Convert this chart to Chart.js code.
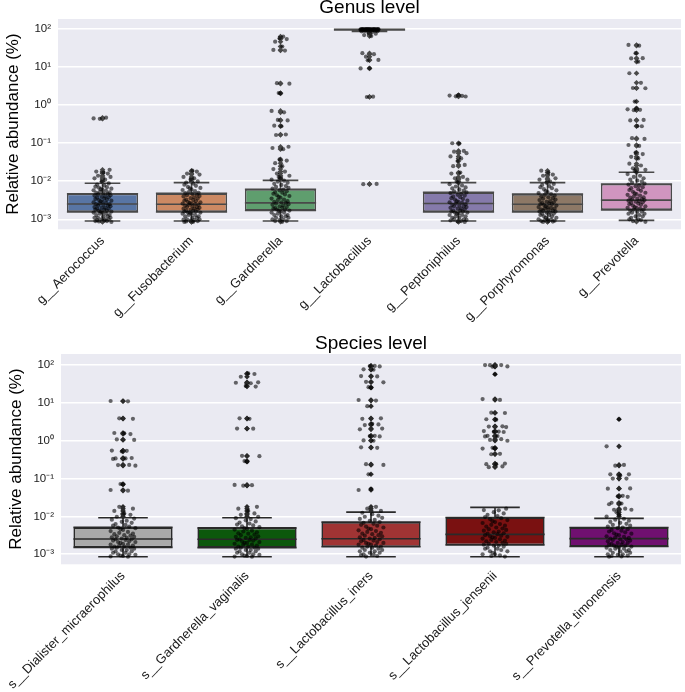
<!DOCTYPE html>
<html>
<head>
<meta charset="utf-8">
<script src="https://cdn.jsdelivr.net/npm/chart.js@4.4.1/dist/chart.umd.min.js"></script>
<style>
  body { margin: 0; background: #fff; }
  #genusChart { position: absolute; left: 0; top: 0; }
  #speciesChart { position: absolute; left: 0; top: 330px; }
</style>
</head>
<body>
<canvas id="genusChart" width="685" height="330"></canvas>
<canvas id="speciesChart" width="685" height="362"></canvas>
<script>
// ---- data ----
var yTicks = [0.001, 0.01, 0.1, 1, 10, 100];
var yTickLabels = ['10\u207B\u00B3', '10\u207B\u00B2', '10\u207B\u00B9', '10\u2070', '10\u00B9', '10\u00B2'];

var genusLabels = ['g__Aerococcus', 'g__Fusobacterium', 'g__Gardnerella', 'g__Lactobacillus', 'g__Peptoniphilus', 'g__Porphyromonas', 'g__Prevotella'];
var genusQ1 = [0.00156, 0.00156, 0.0017, 95, 0.00156, 0.00156, 0.00176];
var genusMedian = [0.00253, 0.0025, 0.0027, 98.5, 0.0026, 0.0025, 0.0032];
var genusQ3 = [0.0047, 0.0048, 0.0062, 99.7, 0.0051, 0.0046, 0.0085];
var genusWhiskLo = [0.0009, 0.0009, 0.0009, 88, 0.0009, 0.0009, 0.00094];
var genusWhiskHi = [0.0089, 0.0092, 0.0106, 100, 0.0092, 0.0092, 0.0173];

var aerococcus = [0.45, 0.47, 0.44, 0.02, 0.018, 0.017, 0.016, 0.014, 0.013, 0.012, 0.011, 0.0098, 0.0088, 0.0082, 0.0078, 0.0072, 0.007, 0.0068, 0.0064, 0.0062, 0.006, 0.0058, 0.0056, 0.0053, 0.0051, 0.005, 0.0048, 0.0047, 0.0045, 0.0043, 0.0042, 0.004, 0.0039, 0.0038, 0.0037, 0.0035, 0.0034, 0.0033, 0.0032, 0.0031, 0.003, 0.0029, 0.0028, 0.0027, 0.0026, 0.0025, 0.0025, 0.0024, 0.0023, 0.0023, 0.0022, 0.0021, 0.002, 0.002, 0.0019, 0.0019, 0.0018, 0.0018, 0.0017, 0.0017, 0.0016, 0.0016, 0.0015, 0.0015, 0.0014, 0.0014, 0.0013, 0.0013, 0.0012, 0.0012, 0.0011, 0.0011, 0.0011, 0.001, 0.001, 0.001, 0.00095, 0.00093, 0.0009, 0.0009, 0.00088, 0.00085];
var fusobacterium = [0.019, 0.018, 0.016, 0.015, 0.013, 0.012, 0.011, 0.0099, 0.0092, 0.0087, 0.0081, 0.0076, 0.0071, 0.0067, 0.0065, 0.0061, 0.0059, 0.0055, 0.0052, 0.005, 0.0049, 0.0046, 0.0044, 0.0043, 0.0041, 0.004, 0.0038, 0.0036, 0.0035, 0.0033, 0.0032, 0.0031, 0.003, 0.0029, 0.0028, 0.0027, 0.0026, 0.0026, 0.0025, 0.0024, 0.0024, 0.0023, 0.0022, 0.0021, 0.0021, 0.002, 0.0019, 0.0019, 0.0018, 0.0018, 0.0017, 0.0017, 0.0016, 0.0016, 0.0015, 0.0015, 0.0015, 0.0014, 0.0014, 0.0013, 0.0013, 0.0012, 0.0012, 0.0011, 0.0011, 0.001, 0.001, 0.00098, 0.00095, 0.00092, 0.0009, 0.00088, 0.00086, 0.00085];
var gardnerella = [64, 58, 55, 47, 35, 28.5, 27.5, 3.8, 3.7, 2.1, 2.05, 0.71, 0.65, 0.41, 0.4, 0.29, 0.28, 0.17, 0.165, 0.081, 0.075, 0.07, 0.038, 0.035, 0.03, 0.025, 0.021, 0.018, 0.016, 0.014, 0.013, 0.012, 0.011, 0.0104, 0.0098, 0.0092, 0.0086, 0.008, 0.0075, 0.0071, 0.0067, 0.0064, 0.006, 0.0058, 0.0055, 0.0052, 0.005, 0.0047, 0.0045, 0.0043, 0.0041, 0.0039, 0.0037, 0.0035, 0.0033, 0.0032, 0.003, 0.0029, 0.0028, 0.0027, 0.0026, 0.0025, 0.0024, 0.0023, 0.0022, 0.0021, 0.002, 0.002, 0.0019, 0.0018, 0.0018, 0.0017, 0.0017, 0.0016, 0.0015, 0.0015, 0.0014, 0.0013, 0.0013, 0.0012, 0.0012, 0.0011, 0.0011, 0.001, 0.001, 0.00095, 0.0009, 0.0009, 0.00086];
var lactobacillus = [100, 100, 100, 100, 100, 100, 99.9, 99.9, 99.8, 99.8, 99.7, 99.7, 99.6, 99.5, 99.5, 99.4, 99.2, 99, 99, 98.8, 98.5, 98.2, 98, 97.8, 97.5, 97, 96.5, 96, 95.5, 95, 94, 93, 92, 91, 90, 89, 88, 84, 80, 76, 70, 66, 23.4, 22, 19, 15.6, 15.2, 9.4, 9.3, 1.68, 1.65, 0.0085, 0.0084];
var peptoniphilus = [1.85, 1.8, 1.76, 1.72, 1.7, 0.1, 0.098, 0.063, 0.06, 0.055, 0.045, 0.04, 0.034, 0.027, 0.025, 0.017, 0.016, 0.013, 0.012, 0.011, 0.0098, 0.009, 0.0084, 0.0078, 0.0073, 0.0069, 0.0065, 0.0061, 0.0057, 0.0054, 0.0051, 0.0049, 0.0046, 0.0044, 0.0042, 0.004, 0.0038, 0.0036, 0.0034, 0.0033, 0.0031, 0.003, 0.0029, 0.0028, 0.0027, 0.0026, 0.0025, 0.0024, 0.0023, 0.0022, 0.0022, 0.0021, 0.002, 0.0019, 0.0019, 0.0018, 0.0017, 0.0017, 0.0016, 0.0016, 0.0015, 0.0015, 0.0014, 0.0014, 0.0013, 0.0013, 0.0012, 0.0012, 0.0011, 0.0011, 0.001, 0.001, 0.00097, 0.00093, 0.0009, 0.00088, 0.00085];
var porphyromonas = [0.019, 0.017, 0.015, 0.014, 0.012, 0.011, 0.0098, 0.0091, 0.0085, 0.008, 0.0075, 0.007, 0.0066, 0.0062, 0.0058, 0.0055, 0.0052, 0.0049, 0.0046, 0.0044, 0.0042, 0.004, 0.0038, 0.0036, 0.0035, 0.0033, 0.0032, 0.003, 0.0029, 0.0028, 0.0027, 0.0026, 0.0025, 0.0025, 0.0024, 0.0023, 0.0022, 0.0021, 0.0021, 0.002, 0.0019, 0.0019, 0.0018, 0.0018, 0.0017, 0.0017, 0.0016, 0.0016, 0.0015, 0.0015, 0.0014, 0.0014, 0.0013, 0.0013, 0.0012, 0.0012, 0.0011, 0.0011, 0.001, 0.001, 0.00098, 0.00095, 0.00092, 0.0009, 0.0009, 0.00087, 0.00085];
var prevotella = [38.6, 37, 23.4, 17.3, 17, 14, 6.95, 3.9, 2.84, 2.8, 1.25, 0.83, 0.78, 0.76, 0.74, 0.41, 0.4, 0.285, 0.28, 0.136, 0.13, 0.09, 0.085, 0.057, 0.052, 0.044, 0.04, 0.029, 0.026, 0.022, 0.02, 0.019, 0.017, 0.0155, 0.014, 0.013, 0.012, 0.011, 0.0105, 0.0098, 0.0092, 0.0087, 0.0082, 0.0078, 0.0074, 0.007, 0.0066, 0.0062, 0.0059, 0.0056, 0.0053, 0.005, 0.0048, 0.0046, 0.0044, 0.0042, 0.004, 0.0038, 0.0037, 0.0035, 0.0034, 0.0033, 0.0032, 0.0031, 0.003, 0.0029, 0.0028, 0.0027, 0.0026, 0.0025, 0.0024, 0.0023, 0.0022, 0.0021, 0.002, 0.002, 0.0019, 0.0018, 0.0018, 0.0017, 0.0016, 0.0016, 0.0015, 0.0014, 0.0014, 0.0013, 0.0012, 0.0012, 0.0011, 0.001, 0.001, 0.00095, 0.0009, 0.00086];

var speciesLabels = ['s__Dialister_micraerophilus', 's__Gardnerella_vaginalis', 's__Lactobacillus_iners', 's__Lactobacillus_jensenii', 's__Prevotella_timonensis'];
var speciesQ1 = [0.00152, 0.0015, 0.00158, 0.00176, 0.0016];
var speciesMedian = [0.00253, 0.0025, 0.00258, 0.00336, 0.0026];
var speciesQ3 = [0.00515, 0.005, 0.0071, 0.0094, 0.0051];
var speciesWhiskLo = [0.00086, 0.00086, 0.00086, 0.00086, 0.00086];
var speciesWhiskHi = [0.0092, 0.0092, 0.013, 0.0174, 0.0089];

var dialister = [11.2, 11, 3.9, 3.8, 1.6, 1.57, 1.5, 1.08, 1.05, 0.55, 0.54, 0.52, 0.35, 0.34, 0.34, 0.33, 0.23, 0.228, 0.22, 0.072, 0.07, 0.05, 0.048, 0.018, 0.016, 0.014, 0.012, 0.011, 0.0098, 0.0088, 0.0082, 0.0077, 0.0072, 0.0068, 0.0063, 0.006, 0.0057, 0.0054, 0.0051, 0.0049, 0.0046, 0.0044, 0.0041, 0.0039, 0.0037, 0.0035, 0.0034, 0.0032, 0.0031, 0.003, 0.0029, 0.0028, 0.0027, 0.0026, 0.0025, 0.0025, 0.0024, 0.0023, 0.0022, 0.0021, 0.0021, 0.002, 0.0019, 0.0018, 0.0018, 0.0017, 0.0017, 0.0016, 0.0016, 0.0015, 0.0015, 0.0014, 0.0014, 0.0013, 0.0013, 0.0012, 0.0012, 0.0011, 0.0011, 0.001, 0.001, 0.00097, 0.00093, 0.0009, 0.00088, 0.00086];
var gVaginalis = [60, 58, 49, 35, 34, 33, 28, 27, 3.9, 3.8, 2.1, 2.08, 0.4, 0.39, 0.29, 0.28, 0.068, 0.067, 0.065, 0.018, 0.016, 0.014, 0.012, 0.011, 0.0098, 0.009, 0.0085, 0.0079, 0.0074, 0.0069, 0.0065, 0.0061, 0.0058, 0.0055, 0.0052, 0.0049, 0.0047, 0.0045, 0.0042, 0.004, 0.0038, 0.0036, 0.0035, 0.0033, 0.0032, 0.003, 0.0029, 0.0028, 0.0027, 0.0026, 0.0025, 0.0024, 0.0024, 0.0023, 0.0022, 0.0021, 0.002, 0.002, 0.0019, 0.0018, 0.0018, 0.0017, 0.0016, 0.0016, 0.0015, 0.0015, 0.0014, 0.0014, 0.0013, 0.0013, 0.0012, 0.0012, 0.0011, 0.0011, 0.001, 0.001, 0.00096, 0.00092, 0.0009, 0.00087, 0.00086];
var lIners = [95, 94, 92, 77, 75, 51, 50, 36, 35, 26, 25, 11.9, 11.5, 8.2, 3.9, 3.8, 2.8, 2.7, 2.6, 2.1, 2.0, 1.35, 1.33, 1.3, 1.02, 1.0, 0.67, 0.65, 0.24, 0.23, 0.13, 0.053, 0.05, 0.018, 0.016, 0.014, 0.0125, 0.0115, 0.0105, 0.0098, 0.0092, 0.0086, 0.0081, 0.0076, 0.0071, 0.0068, 0.0064, 0.006, 0.0057, 0.0054, 0.0051, 0.0048, 0.0046, 0.0043, 0.0041, 0.0039, 0.0037, 0.0035, 0.0034, 0.0032, 0.0031, 0.003, 0.0028, 0.0027, 0.0026, 0.0025, 0.0024, 0.0023, 0.0022, 0.0021, 0.002, 0.002, 0.0019, 0.0018, 0.0018, 0.0017, 0.0016, 0.0016, 0.0015, 0.0015, 0.0014, 0.0013, 0.0013, 0.0012, 0.0012, 0.0011, 0.0011, 0.001, 0.001, 0.00095, 0.0009, 0.00087];
var lJensenii = [100, 100, 99, 92, 90, 57, 12.6, 12, 5.5, 5.4, 3.7, 3.6, 2.4, 2.36, 2.3, 1.8, 1.75, 1.73, 1.7, 1.35, 1.33, 1.3, 1.1, 1.05, 1.0, 0.65, 0.63, 0.62, 0.45, 0.44, 0.25, 0.24, 0.24, 0.21, 0.2, 0.016, 0.0147, 0.0145, 0.013, 0.012, 0.011, 0.0102, 0.0096, 0.009, 0.0085, 0.008, 0.0075, 0.0071, 0.0067, 0.0063, 0.006, 0.0057, 0.0054, 0.0051, 0.0048, 0.0046, 0.0044, 0.0042, 0.004, 0.0038, 0.0036, 0.0035, 0.0034, 0.0032, 0.0031, 0.003, 0.0029, 0.0028, 0.0027, 0.0026, 0.0025, 0.0024, 0.0023, 0.0022, 0.0021, 0.002, 0.0019, 0.0019, 0.0018, 0.0017, 0.0017, 0.0016, 0.0015, 0.0014, 0.0014, 0.0013, 0.0012, 0.0012, 0.0011, 0.001, 0.001, 0.00094, 0.0009, 0.00087];
var pTimonensis = [3.7, 0.71, 0.23, 0.22, 0.13, 0.13, 0.12, 0.1, 0.1, 0.055, 0.054, 0.035, 0.034, 0.033, 0.023, 0.022, 0.021, 0.016, 0.015, 0.015, 0.013, 0.011, 0.0099, 0.0087, 0.0082, 0.0077, 0.0072, 0.0068, 0.0064, 0.006, 0.0057, 0.0054, 0.0051, 0.0049, 0.0046, 0.0044, 0.0042, 0.004, 0.0038, 0.0036, 0.0035, 0.0033, 0.0032, 0.003, 0.0029, 0.0028, 0.0027, 0.0026, 0.0025, 0.0025, 0.0024, 0.0023, 0.0022, 0.0021, 0.002, 0.002, 0.0019, 0.0018, 0.0018, 0.0017, 0.0017, 0.0016, 0.0016, 0.0015, 0.0015, 0.0014, 0.0014, 0.0013, 0.0013, 0.0012, 0.0012, 0.0011, 0.0011, 0.001, 0.001, 0.00097, 0.00093, 0.0009, 0.00088, 0.00086];

var genusPoints = [aerococcus, fusobacterium, gardnerella, lactobacillus, peptoniphilus, porphyromonas, prevotella];
var speciesPoints = [dialister, gVaginalis, lIners, lJensenii, pTimonensis];

var genusColors = ['#5875a4', '#cc8963', '#5f9e6e', '#b55d60', '#857aab', '#8d7866', '#d095bf'];
var speciesColors = ['#a9a9a9', '#0c580c', '#a03434', '#7a1111', '#701070'];

// ---- drawing ----
var fontFamily = '"Liberation Sans", Arial, Helvetica, sans-serif';
var jitterSteps = [-1, 0.4, -0.3, 0.8, -0.7, 0.1, 0.6, -0.5, 0.9, -0.9, 0.3, -0.1, 0.7, -0.6, 0.2, -0.8, 0.5, -0.4, 1, -0.2, 0];

function makeBoxChart(canvasId, opt) {
    var n = opt.labels.length;
    var strip = [];
    var fliers = [];
    for (var c = 0; c < n; c++) {
        var vals = opt.points[c];
        for (var i = 0; i < vals.length; i++) {
            var j = jitterSteps[(i + c * 5) % jitterSteps.length] * 0.1;
            strip.push({ x: c + j, y: vals[i] });
            if (vals[i] > opt.hi[c] || vals[i] < opt.lo[c]) {
                fliers.push({ x: c, y: vals[i] });
            }
        }
    }

    var boxParts = {
        id: 'boxParts',
        beforeDraw: function (chart) {
            var a = chart.chartArea, ctx = chart.ctx;
            ctx.save();
            ctx.fillStyle = '#eaeaf2';
            ctx.fillRect(a.left, a.top, a.right - a.left, a.bottom - a.top);
            ctx.restore();
        },
        afterDatasetDraw: function (chart, args) {
            if (args.meta.type !== 'bar') return;
            var ys = chart.scales.y, ctx = chart.ctx;
            ctx.save();
            ctx.strokeStyle = opt.line;
            ctx.lineWidth = 1.6;
            ctx.lineCap = 'butt';
            args.meta.data.forEach(function (bar, k) {
                var cx = bar.x, half = bar.width / 2;
                var yQ1 = ys.getPixelForValue(opt.q1[k]);
                var yQ3 = ys.getPixelForValue(opt.q3[k]);
                var yMed = ys.getPixelForValue(opt.med[k]);
                var yLo = ys.getPixelForValue(opt.lo[k]);
                var yHi = ys.getPixelForValue(opt.hi[k]);
                ctx.beginPath();
                ctx.moveTo(cx - half, yMed); ctx.lineTo(cx + half, yMed);
                ctx.moveTo(cx, yQ3); ctx.lineTo(cx, yHi);
                ctx.moveTo(cx, yQ1); ctx.lineTo(cx, yLo);
                ctx.moveTo(cx - half / 2, yHi); ctx.lineTo(cx + half / 2, yHi);
                ctx.moveTo(cx - half / 2, yLo); ctx.lineTo(cx + half / 2, yLo);
                ctx.moveTo(cx - half, yQ1); ctx.lineTo(cx + half, yQ1);
                ctx.moveTo(cx - half, yQ3); ctx.lineTo(cx + half, yQ3);
                ctx.stroke();
            });
            ctx.restore();
        }
    };

    return new Chart(document.getElementById(canvasId), {
        type: 'bar',
        data: {
            labels: opt.labels,
            datasets: [
                {
                    type: 'scatter',
                    data: strip,
                    xAxisID: 'xj',
                    yAxisID: 'y',
                    backgroundColor: 'rgba(0,0,0,0.58)',
                    borderWidth: 0,
                    pointRadius: 2.1,
                    order: 1
                },
                {
                    type: 'scatter',
                    data: fliers,
                    xAxisID: 'xj',
                    yAxisID: 'y',
                    pointStyle: 'rectRot',
                    backgroundColor: opt.line,
                    borderWidth: 0,
                    pointRadius: 2.8,
                    order: 2
                },
                {
                    type: 'bar',
                    data: opt.q1.map(function (v, k) { return [v, opt.q3[k]]; }),
                    xAxisID: 'x',
                    yAxisID: 'y',
                    backgroundColor: opt.colors,
                    borderColor: opt.line,
                    borderWidth: 1.6,
                    borderSkipped: false,
                    grouped: false,
                    barPercentage: 0.8,
                    categoryPercentage: 1,
                    order: 3
                }
            ]
        },
        options: {
            responsive: false,
            animation: false,
            events: [],
            layout: { padding: { left: 0, right: 0, top: opt.padTop, bottom: 0 } },
            plugins: {
                legend: { display: false },
                tooltip: { enabled: false },
                title: {
                    display: true,
                    fullSize: false,
                    text: opt.title,
                    color: '#000',
                    font: { family: fontFamily, size: 19, weight: 'normal', lineHeight: 0.83 },
                    padding: { top: 0, bottom: opt.titleGap }
                }
            },
            scales: {
                x: {
                    type: 'category',
                    offset: true,
                    grid: { display: false, drawTicks: false },
                    border: { display: false },
                    ticks: {
                        autoSkip: false,
                        maxRotation: 45,
                        minRotation: 45,
                        padding: 4,
                        color: '#1a1a1a',
                        font: { family: fontFamily, size: 13 }
                    },
                    afterFit: function (s) { s.height = opt.xHeight; }
                },
                xj: {
                    type: 'linear',
                    display: false,
                    offset: false,
                    grid: { offset: false },
                    min: -0.5,
                    max: n - 0.5
                },
                y: {
                    type: 'logarithmic',
                    min: opt.yMin,
                    max: opt.yMax,
                    afterBuildTicks: function (s) {
                        s.ticks = yTicks.map(function (v) { return { value: v }; });
                    },
                    ticks: {
                        padding: 7,
                        color: '#1a1a1a',
                        font: { family: fontFamily, size: 11.5 },
                        callback: function (v) {
                            return yTickLabels[yTicks.indexOf(v)];
                        }
                    },
                    grid: { color: '#ffffff', lineWidth: 1.6, drawTicks: false },
                    border: { display: false },
                    title: {
                        display: true,
                        text: 'Relative abundance (%)',
                        color: '#000',
                        font: { family: fontFamily, size: 17 },
                        padding: { top: 3, bottom: 0 }
                    },
                    afterFit: function (s) { s.width = 58; }
                }
            }
        },
        plugins: [boxParts]
    });
}

makeBoxChart('genusChart', {
    title: 'Genus level',
    labels: genusLabels,
    points: genusPoints,
    q1: genusQ1, med: genusMedian, q3: genusQ3, lo: genusWhiskLo, hi: genusWhiskHi,
    colors: genusColors,
    line: '#494949',
    yMin: 0.000546, yMax: 186,
    padTop: 0, titleGap: 3.2,
    xHeight: 100.7
});

makeBoxChart('speciesChart', {
    title: 'Species level',
    labels: speciesLabels,
    points: speciesPoints,
    q1: speciesQ1, med: speciesMedian, q3: speciesQ3, lo: speciesWhiskLo, hi: speciesWhiskHi,
    colors: speciesColors,
    line: '#2a2a2a',
    yMin: 0.000544, yMax: 196,
    padTop: 5.8, titleGap: 2.4,
    xHeight: 127.7
});
</script>
</body>
</html>
